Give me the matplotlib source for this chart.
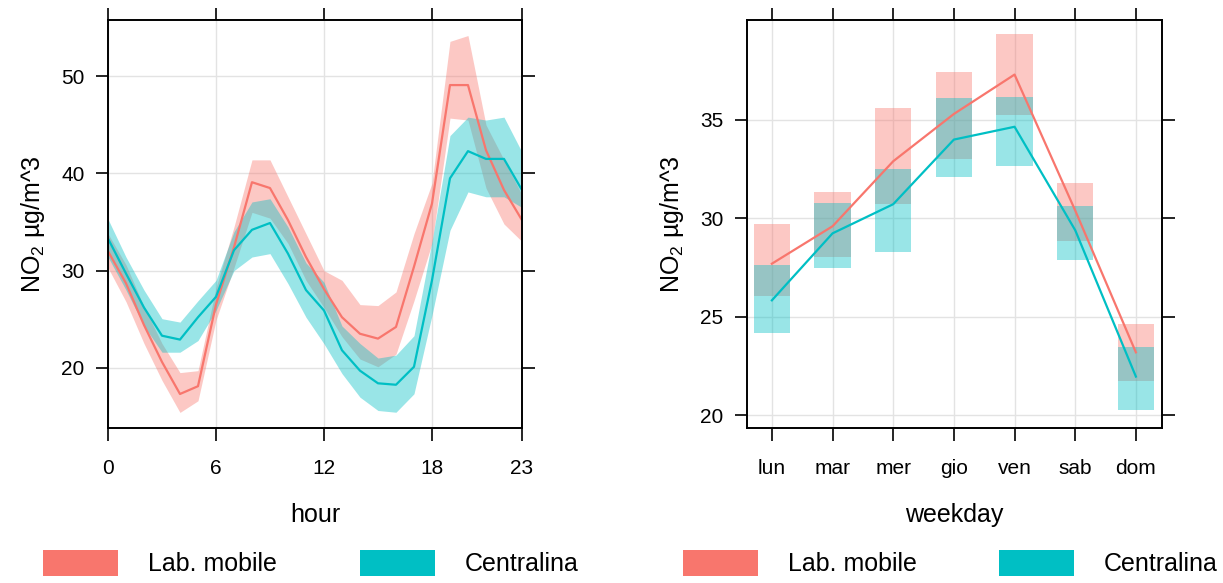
import matplotlib
matplotlib.use("Agg")
from matplotlib import pyplot as plt
from matplotlib.patches import Patch
import numpy as np

plt.rcParams['font.family'] = ['Liberation Sans', 'DejaVu Sans']
plt.rcParams['mathtext.fontset'] = 'custom'
plt.rcParams['mathtext.rm'] = 'Liberation Sans'
plt.rcParams['mathtext.default'] = 'regular'

RED = '#F8766D'
TEAL = '#00BFC4'

# hourly profile
hours = list(range(24))
lab_mean = [32.0, 28.7, 24.4, 20.6, 17.3, 18.1, 26.5, 32.4, 39.1, 38.5, 35.2, 31.4,
            28.1, 25.2, 23.5, 23.0, 24.2, 30.4, 36.9, 49.1, 49.1, 42.4, 38.3, 35.2]
lab_low = [30.3, 26.8, 22.5, 18.7, 15.4, 16.6, 24.9, 30.3, 36.0, 35.4, 32.8, 29.0,
           26.2, 23.2, 20.9, 20.1, 21.4, 26.9, 32.8, 45.7, 45.5, 38.5, 34.8, 33.0]
lab_high = [33.8, 30.6, 26.3, 22.5, 19.5, 19.7, 28.2, 34.5, 41.4, 41.4, 37.6, 33.8,
            30.0, 29.0, 26.5, 26.4, 27.8, 33.8, 39.0, 53.6, 54.2, 45.0, 41.4, 37.8]
cen_mean = [33.3, 29.7, 26.2, 23.3, 22.9, 25.2, 27.3, 32.1, 34.2, 34.9, 31.75, 28.0,
            25.9, 21.8, 19.7, 18.4, 18.25, 20.1, 29.0, 39.5, 42.3, 41.5, 41.5, 38.3]
cen_low = [31.4, 28.0, 24.3, 21.6, 21.6, 22.8, 25.9, 30.0, 31.4, 31.75, 28.66, 25.2,
           22.47, 19.4, 16.97, 15.6, 15.42, 17.32, 25.4, 34.15, 38.1, 37.6, 37.6, 36.5]
cen_high = [35.3, 31.4, 28.0, 25.05, 24.7, 26.9, 29.0, 34.0, 37.07, 37.4, 34.5, 30.8,
            28.8, 24.3, 22.5, 21.0, 21.3, 23.3, 33.0, 43.9, 45.8, 45.5, 45.8, 42.2]

# weekday profile
days = ['lun', 'mar', 'mer', 'gio', 'ven', 'sab', 'dom']
lab_day_mean = [27.7, 29.6, 32.9, 35.3, 37.3, 30.4, 23.2]
lab_day_low = [26.06, 28.06, 30.71, 33.03, 35.27, 28.87, 21.73]
lab_day_high = [29.70, 31.36, 35.61, 37.44, 39.34, 31.78, 24.65]
cen_day_mean = [25.84, 29.24, 30.72, 34.0, 34.65, 29.4, 21.97]
cen_day_low = [24.16, 27.47, 28.31, 32.12, 32.66, 27.89, 20.25]
cen_day_high = [27.62, 30.79, 32.53, 36.09, 36.18, 30.61, 23.48]

fig = plt.figure(figsize=(12.23, 5.83), dpi=100)
ax1 = fig.add_axes([0.0883, 0.2659, 0.3385, 0.6998])
ax2 = fig.add_axes([0.6108, 0.2659, 0.3393, 0.6998])

ylabel = 'NO$_2$ µg/m^3'


def style(ax):
    for s in ax.spines.values():
        s.set_linewidth(1.4)
        s.set_color('black')
    ax.tick_params(direction='out', length=9, width=1.2, labelsize=15,
                   top=True, right=True, labeltop=False, labelright=False)
    ax.tick_params(axis='x', pad=13)
    ax.tick_params(axis='y', pad=8)
    ax.grid(True, color='#E3E3E3', linewidth=1)
    ax.set_axisbelow(True)


# left: hour
ax1.fill_between(hours, lab_low, lab_high, color=RED, alpha=0.4, linewidth=0)
ax1.fill_between(hours, cen_low, cen_high, color=TEAL, alpha=0.4, linewidth=0)
ax1.plot(hours, lab_mean, color=RED, lw=1.6)
ax1.plot(hours, cen_mean, color=TEAL, lw=1.6)
ax1.set_xlim(0, 23)
ax1.set_ylim(13.8, 55.8)
ax1.set_xticks([0, 6, 12, 18, 23])
ax1.set_yticks([20, 30, 40, 50])
style(ax1)
ax1.set_xlabel('hour', fontsize=18, labelpad=18)
ax1.set_ylabel(ylabel, fontsize=18, labelpad=10)

# right: weekday
x = np.arange(len(days))
ax2.bar(x, np.subtract(lab_day_high, lab_day_low), bottom=lab_day_low, width=0.6,
        color=RED, alpha=0.4, linewidth=0)
ax2.bar(x, np.subtract(cen_day_high, cen_day_low), bottom=cen_day_low, width=0.6,
        color=TEAL, alpha=0.4, linewidth=0)
ax2.plot(x, lab_day_mean, color=RED, lw=1.6)
ax2.plot(x, cen_day_mean, color=TEAL, lw=1.6)
ax2.set_xlim(-0.41, 6.43)
ax2.set_ylim(19.36, 40.07)
ax2.set_xticks(x)
ax2.set_xticklabels(days)
ax2.set_yticks([20, 25, 30, 35])
style(ax2)
ax2.set_xlabel('weekday', fontsize=18, labelpad=18)
ax2.set_ylabel(ylabel, fontsize=18, labelpad=10)

handles = [Patch(facecolor=RED), Patch(facecolor=TEAL)]
labels = ['Lab. mobile', 'Centralina']
for ax in (ax1, ax2):
    ax.legend(handles, labels, ncol=2, loc='center', bbox_to_anchor=(0.49, -0.331),
              frameon=False, fontsize=18, handlelength=3.0, handleheight=1.2,
              handletextpad=1.2, columnspacing=3.3)

fig.savefig('out.png', dpi=100)
